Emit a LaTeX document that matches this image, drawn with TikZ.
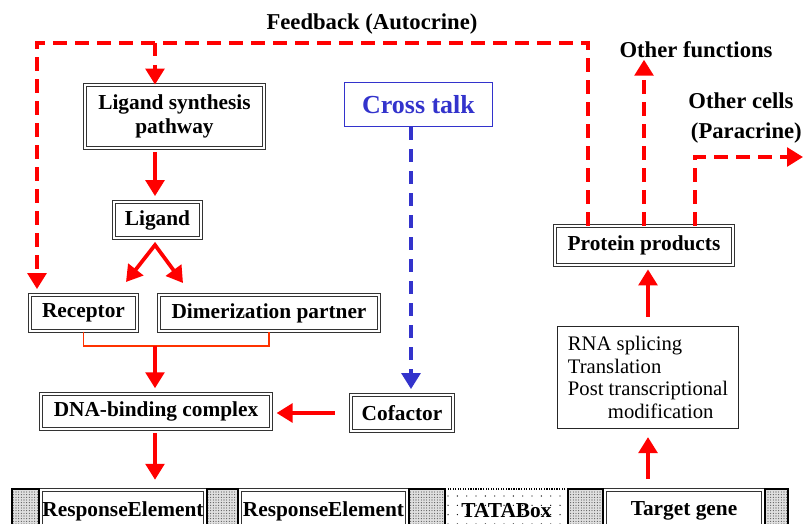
\documentclass[tikz,border=0pt]{standalone}
\usepackage{fontspec}
\setmainfont{Liberation Serif}
\usepackage{xcolor}
\usepackage{tikz}
\definecolor{flowred}{RGB}{255, 0, 0}
\definecolor{orangered}{RGB}{255, 51, 0}
\definecolor{talkblue}{RGB}{51, 51, 204}
\usetikzlibrary{arrows.meta, patterns.meta, positioning}

\begin{document}
\begin{tikzpicture}[
    x=0.75pt, y=-0.75pt,
    dbox/.style={rectangle, draw=black!80, double=white, double distance=1.5pt, line width=0.85pt, fill=white, inner sep=0pt, align=center, font=\bfseries\fontsize{16}{17.5}\selectfont},
    plainbox/.style={rectangle, draw=black!85, line width=0.9pt, fill=white, inner sep=0pt, align=left, font=\fontsize{15.5}{17}\selectfont},
    talkbox/.style={rectangle, draw=talkblue, line width=0.9pt, text=talkblue, inner sep=0pt, font=\bfseries\fontsize{19.5}{22}\selectfont},
    lbl/.style={inner sep=1pt, align=center, font=\bfseries\fontsize{17}{22.5}\selectfont},
    stip/.style={rectangle, draw=black, line width=1.8pt, inner sep=0pt, preaction={fill=gray!25}, pattern={Dots[distance=2pt, radius=0.4pt]}, pattern color=black!75},
    tata/.style={rectangle, draw=black, densely dotted, line width=0.9pt, inner sep=0pt, pattern={Dots[distance=7pt, radius=0.5pt]}, pattern color=black, font=\bfseries\fontsize{16}{17.5}\selectfont},
    flow/.style={draw=flowred, line width=2.8pt, line join=miter, -{Triangle[width=14pt, length=12pt]}},
    fback/.style={draw=flowred, line width=2.8pt, dash pattern=on 10pt off 6.5pt},
    xtalk/.style={draw=talkblue, line width=2.8pt, dash pattern=on 10pt off 6.5pt, -{Triangle[width=14pt, length=12pt]}},
    bracket/.style={draw=orangered, line width=1.3pt}
]
    \useasboundingbox (0,0) rectangle (803,524);
    \clip (0,0) rectangle (803,524);

    % labels
    \node[lbl] (fbtxt) at (372,24) {Feedback (Autocrine)};
    \node[lbl] (ofun) at (696,50) {Other functions};
    \node[lbl] (ocell) at (741,118) {Other cells\\\hspace*{8pt}(Paracrine)};

    % ligand side
    \node[dbox, minimum width=134pt, minimum height=47pt] (lsp) at (174.5,116.5) {Ligand synthesis\\pathway};
    \node[dbox, minimum width=65pt, minimum height=27pt] (lig) at (157.5,220) {Ligand};
    \node[dbox, minimum width=80pt, minimum height=27pt] (rec) at (83.5,313) {Receptor};
    \node[dbox, minimum width=165pt, minimum height=27pt] (dim) at (269,313) {Dimerization partner};
    \node[dbox, minimum width=172pt, minimum height=26pt] (dna) at (156,411.5) {DNA-binding complex};
    \node[dbox, minimum width=76pt, minimum height=27pt] (cof) at (402,413) {Cofactor};
    \node[talkbox, minimum width=111pt, minimum height=33pt] (cross) at (418.5,104.5) {Cross talk};

    % product side
    \node[dbox, minimum width=133pt, minimum height=29pt] (prot) at (644,245.5) {Protein products};
    \node[plainbox, minimum width=136pt, minimum height=76.5pt] (rna) at (648,377.5) {RNA splicing\\Translation\\Post transcriptional\\\hspace*{30pt}modification};

    % DNA strip
    \node[dbox, minimum width=123pt, minimum height=32pt] (re1) at (123,511) {ResponseElement};
    \node[dbox, minimum width=125pt, minimum height=32pt] (re2) at (323.5,511) {ResponseElement};
    \node[tata, minimum width=92.25pt, minimum height=33pt] (tbox) at (506.5,511) {TATABox};
    \node[dbox, minimum width=118.5pt, minimum height=32pt] (tg) at (684,511) {Target gene};
    \node[stip, minimum width=20.25pt, minimum height=33pt] (s1) at (25.5,511) {};
    \node[stip, minimum width=23.25pt, minimum height=33pt] (s2) at (222.5,511) {};
    \node[stip, minimum width=27pt, minimum height=33pt] (s3) at (427,511) {};
    \node[stip, minimum width=26.25pt, minimum height=33pt] (s4) at (585.5,511) {};
    \node[stip, minimum width=17.25pt, minimum height=33pt] (s5) at (776.5,511) {};

    % feedback loop
    \coordinate (fbl) at (37,43);
    \coordinate (fbr) at (588,43);
    \coordinate (fbm) at (155,43);
    \draw[fback, -{Triangle[width=14pt, length=12pt]}, shorten >=4pt] (fbr |- prot.north) -- (fbr) -- (fbl) -- (fbl |- rec.north);
    \draw[fback, -{Triangle[width=14pt, length=12pt]}] (fbm) -- (fbm |- lsp.north);

    % outputs of protein products
    \coordinate (pc) at (695,157);
    \coordinate (pout) at (803,157);
    \draw[fback, -{Triangle[width=14pt, length=12pt]}] (prot.north) -- (prot.north |- ofun.south);
    \draw[fback, -{Triangle[width=14pt, length=12pt]}] (pc |- prot.north) -- (pc) -- (pout);

    % ligand pathway
    \coordinate (fork) at (155,245);
    \coordinate (forkl) at (126,282);
    \coordinate (forkr) at (183,283);
    \coordinate (jn) at (155,346);
    \draw[flow, shorten <=3pt, shorten >=4pt] (fbm |- lsp.south) -- (fbm |- lig.north);
    \draw[flow, {Triangle[width=14pt, length=12pt]}-{Triangle[width=14pt, length=12pt]}] (forkl) -- (fork) -- (forkr);
    \draw[bracket] (rec.south) -- (rec.south |- jn) -- (dim.south |- jn) -- (dim.south);
    \draw[flow, shorten >=4pt] (jn) -- (jn |- dna.north);
    \draw[flow, shorten <=12pt, shorten >=4pt] (cof.west) -- (cof.west -| dna.east);
    \draw[flow, shorten <=3pt, shorten >=7pt] (jn |- dna.south) -- (jn |- re1.north);

    % cross talk
    \coordinate (xt) at (411,0);
    \draw[xtalk, shorten >=4pt] (xt |- cross.south) -- (xt |- cof.north);

    % gene expression
    \draw[flow, shorten <=7pt, shorten >=3pt] (rna.north) -- (rna.north |- prot.south);
    \draw[flow, shorten <=7.5pt, shorten >=6pt] (rna.south |- tg.north) -- (rna.south);

\end{tikzpicture}
\end{document}
